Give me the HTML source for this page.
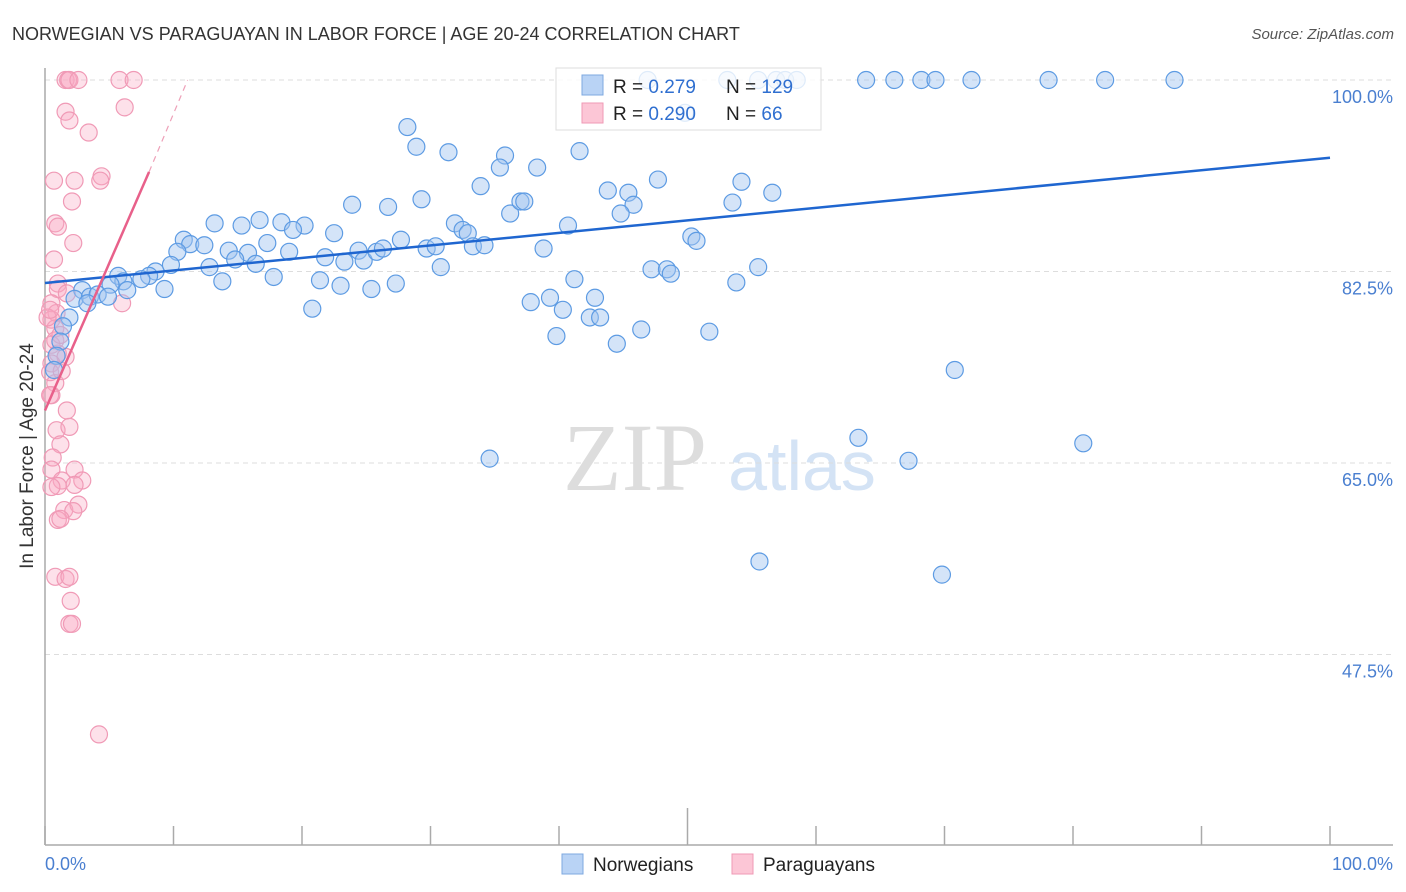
<!DOCTYPE html>
<html><head><meta charset="utf-8"><style>
body{margin:0;background:#fff;font-family:"Liberation Sans",sans-serif;}
svg{display:block}
</style></head><body>
<svg width="1406" height="892" viewBox="0 0 1406 892" xmlns="http://www.w3.org/2000/svg">
<text x="12" y="40" font-size="18" fill="#333">NORWEGIAN VS PARAGUAYAN IN LABOR FORCE | AGE 20-24 CORRELATION CHART</text>
<text x="1394" y="39" font-size="15" fill="#555" font-style="italic" text-anchor="end">Source: ZipAtlas.com</text>
<g>
<text x="635" y="490" font-size="96" font-family="Liberation Serif,serif" fill="#ddd" text-anchor="middle">ZIP</text>
<text x="802" y="490" font-size="70" fill="#d4e3f5" text-anchor="middle">atlas</text>
</g>
<g id="grid"></g>
<g id="axes"></g>
<g id="pts"></g>
<g id="lines"></g>
<text x="33" y="456" font-size="19" fill="#333" text-anchor="middle" transform="rotate(-90 33 456)">In Labor Force | Age 20-24</text>
<text x="45" y="870" font-size="18" fill="#4a7fd0">0.0%</text>
<text x="1393" y="870" font-size="18" fill="#4a7fd0" text-anchor="end">100.0%</text>
<g>
<rect x="556" y="68" width="265" height="62" fill="rgba(255,255,255,0.8)" stroke="#ddd"/>
<rect x="582" y="75" width="21" height="20" fill="#b9d3f5" stroke="#7ea8e0"/>
<rect x="582" y="103" width="21" height="20" fill="#fcc6d6" stroke="#ef9ab5"/>
<text x="613" y="93" font-size="19" fill="#222">R =  <tspan fill="#2f6fd0">0.279</tspan></text>
<text x="726" y="93" font-size="19" fill="#222">N = <tspan fill="#2f6fd0">129</tspan></text>
<text x="613" y="120" font-size="19" fill="#222">R =  <tspan fill="#2f6fd0">0.290</tspan></text>
<text x="726" y="120" font-size="19" fill="#222">N =   <tspan fill="#2f6fd0">66</tspan></text>
</g>
<g>
<rect x="562" y="854" width="21" height="20" fill="#b9d3f5" stroke="#7ea8e0"/>
<text x="593" y="871" font-size="19" fill="#222">Norwegians</text>
<rect x="732" y="854" width="21" height="20" fill="#fcc6d6" stroke="#ef9ab5"/>
<text x="763" y="871" font-size="19" fill="#222">Paraguayans</text>
</g>
</svg>
<script>
const yTicks=[100,82.5,65,47.5];
const yTickLabels=["100.0%","82.5%","65.0%","47.5%"];
const xTicks=[0,10,20,30,40,50,60,70,80,90,100];
const blueX=[28.2,28.9,31.4,41.6,35.8,35.4,38.3,33.9,29.3,23.9,26.7,36.2,37.0,37.3,13.2,15.3,16.7,18.4,20.2,19.3,22.5,10.8,11.3,12.4,10.3,17.3,14.3,15.8,19.0,14.8,16.4,12.8,13.8,9.8,8.6,8.1,7.5,5.7,6.1,5.1,6.4,9.3,2.9,2.3,3.5,4.1,4.9,3.3,1.9,1.4,1.2,0.9,0.7,21.4,17.8,23.0,20.8,25.4,27.3,21.8,23.3,24.4,24.8,25.8,26.3,27.7,29.7,30.4,30.8,31.9,32.5,32.9,33.3,34.2,38.8,40.7,41.2,43.8,45.4,45.8,44.8,47.7,37.8,39.3,40.3,42.8,42.4,43.2,39.8,44.5,46.4,47.2,48.4,48.7,50.3,50.7,51.7,53.5,54.2,56.6,53.8,55.5,70.8,63.3,67.2,80.8,34.6,55.6,69.8,46.9,53.1,55.5,56.9,57.6,58.5,63.9,66.1,68.2,69.3,72.1,78.1,82.5,87.9,49.8];
const blueY=[95.7,93.9,93.4,93.5,93.1,92.0,92.0,90.3,89.1,88.6,88.4,87.8,88.9,88.9,86.9,86.7,87.2,87.0,86.7,86.3,86.0,85.4,85.0,84.9,84.3,85.1,84.4,84.2,84.3,83.6,83.2,82.9,81.6,83.1,82.5,82.1,81.8,82.1,81.6,81.3,80.8,80.9,80.8,80.0,80.2,80.4,80.2,79.6,78.3,77.5,76.1,74.8,73.5,81.7,82.0,81.2,79.1,80.9,81.4,83.8,83.4,84.4,83.5,84.3,84.6,85.4,84.6,84.8,82.9,86.9,86.3,86.0,84.8,84.9,84.6,86.7,81.8,89.9,89.7,88.6,87.8,90.9,79.7,80.1,79.0,80.1,78.3,78.3,76.6,75.9,77.2,82.7,82.7,82.3,85.7,85.3,77.0,88.8,90.7,89.7,81.5,82.9,73.5,67.3,65.2,66.8,65.4,56.0,54.8,100,100,100,100,100,100,100,100,100,100,100,100,100,100,97.0];
const pinkX=[1.6,1.8,1.9,2.6,5.8,6.9,1.6,1.9,3.4,6.2,0.7,2.3,4.4,4.3,2.1,0.8,1.0,2.2,0.7,1.0,1.0,1.7,6.0,0.5,0.9,0.5,0.8,0.5,1.0,1.6,0.5,0.8,0.5,1.7,0.9,1.9,1.2,0.6,0.5,2.3,1.3,2.9,1.0,2.3,0.5,1.5,2.6,2.2,1.0,1.2,0.8,1.6,1.9,2.0,1.9,2.1,4.2,0.8,0.4,1.3,0.4,0.2,0.4,1.2];
const pinkY=[100,100,100,100,100,100,97.1,96.3,95.2,97.5,90.8,90.8,91.2,90.8,88.9,86.9,86.6,85.1,83.6,81.4,80.9,80.5,79.6,79.6,78.7,78.1,77.3,75.8,75.0,74.7,74.1,72.3,71.2,69.8,68.0,68.3,66.7,65.5,64.4,64.4,63.4,63.4,62.9,63.0,62.8,60.7,61.2,60.6,59.8,59.9,54.6,54.4,54.6,52.4,50.3,50.3,40.2,76.2,73.3,73.4,71.2,78.3,79.0,76.7];
const blueTrend=[[0,81.45],[100,92.9]];
const pinkTrendSolid=[[0,69.8],[8.1,91.6]];
const pinkTrendDash=[[8.1,91.6],[11.1,100]];

const X0=45,X1=1330,Y100=80,PXPER=10.943;
const sx=v=>X0+(X1-X0)*v/100;
const sy=v=>Y100+(100-v)*PXPER;
const NS="http://www.w3.org/2000/svg";
function mk(tag,attrs,parent){const e=document.createElementNS(NS,tag);for(const k in attrs)e.setAttribute(k,attrs[k]);parent.appendChild(e);return e;}
const grid=document.getElementById('grid'),axes=document.getElementById('axes'),svg=document.querySelector('svg');
yTicks.forEach((t,i)=>{
  const l=mk('line',{x1:X0,x2:1393,y1:sy(t),y2:sy(t),stroke:'#ddd','stroke-dasharray':'5,4'},grid);
  
  
  const tx=mk('text',{x:1393,y:sy(t)+23,'font-size':18,fill:'#4a7fd0','text-anchor':'end'},svg);
  tx.textContent=yTickLabels[i];
  
  
});
mk('line',{x1:X0,x2:X0,y1:68,y2:845,stroke:'#aaa','stroke-width':1.5},axes);
mk('line',{x1:X0,x2:1393,y1:845,y2:845,stroke:'#aaa','stroke-width':1.5},axes);
xTicks.forEach(t=>{
  const l=mk('line',{x1:sx(t),x2:sx(t),y1:t===50?808:826,y2:845,stroke:'#aaa','stroke-width':1.5},axes);
  
  
});
const pts=document.getElementById('pts');
pinkX.forEach((x,i)=>{
  const c=mk('circle',{cx:sx(x),cy:sy(pinkY[i]),r:8.5,fill:'rgba(248,170,195,0.35)',stroke:'#f09ab6','stroke-width':1.2},pts);
  
  
});
blueX.forEach((x,i)=>{
  const c=mk('circle',{cx:sx(x),cy:sy(blueY[i]),r:8.5,fill:'rgba(160,196,240,0.45)',stroke:'#5d9be3','stroke-width':1.2},pts);
  
  
});
const lines=document.getElementById('lines');
const bl=mk('line',{x1:sx(blueTrend[0][0]),y1:sy(blueTrend[0][1]),x2:sx(blueTrend[1][0]),y2:sy(blueTrend[1][1]),stroke:'#1f66d0','stroke-width':2.5},lines);


const pl=mk('line',{x1:sx(pinkTrendSolid[0][0]),y1:sy(pinkTrendSolid[0][1]),x2:sx(pinkTrendSolid[1][0]),y2:sy(pinkTrendSolid[1][1]),stroke:'#e8608a','stroke-width':2.5},lines);


const pd=mk('line',{x1:sx(pinkTrendDash[0][0]),y1:sy(pinkTrendDash[0][1]),x2:sx(pinkTrendDash[1][0]),y2:sy(pinkTrendDash[1][1]),stroke:'#eea0b8','stroke-width':1.2,'stroke-dasharray':'6,5'},lines);


</script>
</body></html>
